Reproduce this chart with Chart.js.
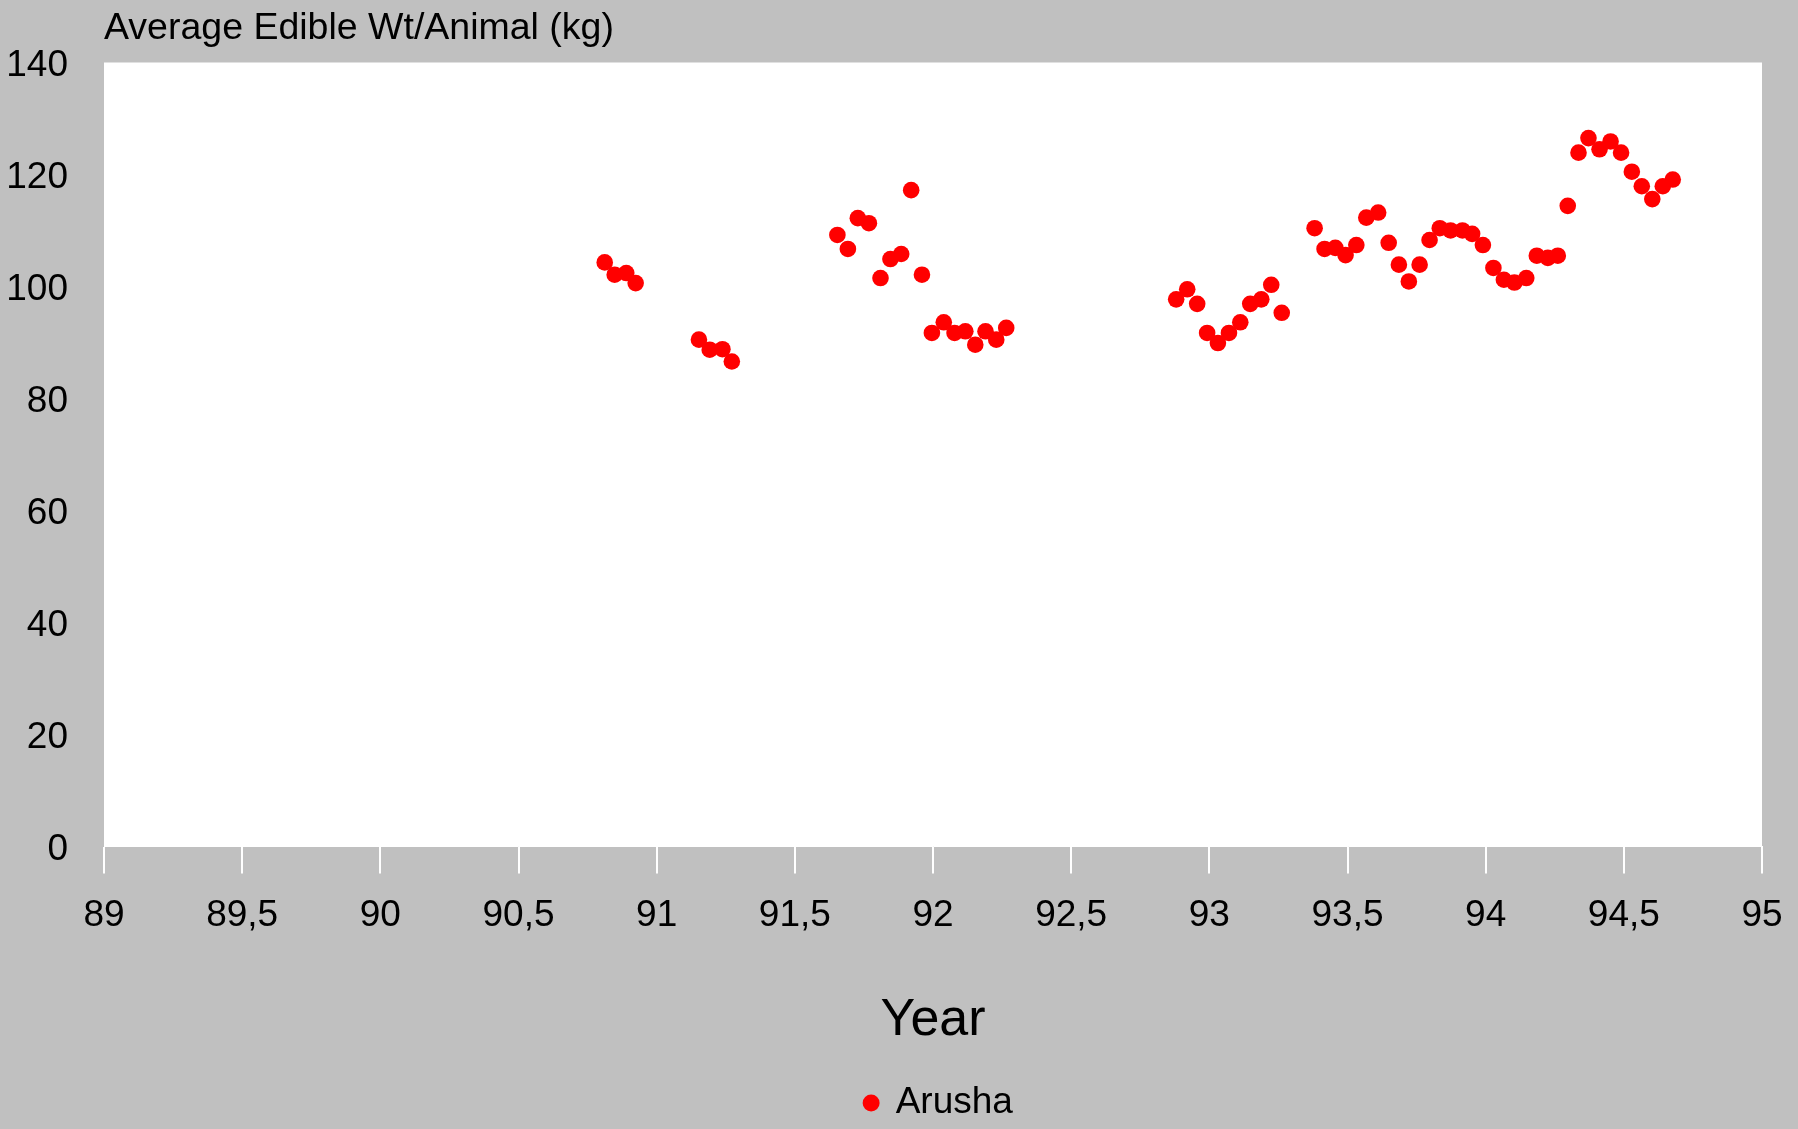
<!DOCTYPE html>
<html>
<head>
<meta charset="utf-8">
<title>Average Edible Wt/Animal - Arusha</title>
<script src="https://cdn.jsdelivr.net/npm/chart.js@4.4.1/dist/chart.umd.min.js"></script>
<style>
    html, body { margin: 0; padding: 0; background: #c0c0c0; }
    #wrap { width: 1798px; height: 1129px; position: relative; }
</style>
</head>
<body>
<div id="wrap"><canvas id="chart"></canvas></div>
<script>
// ---- data ----
const seriesName = 'Arusha';

const years = [
    90.812, 90.848, 90.890, 90.924,
    91.153, 91.192, 91.238, 91.272,
    91.654, 91.692, 91.728, 91.768, 91.810, 91.846, 91.885, 91.921, 91.960,
    91.996, 92.039, 92.078, 92.117, 92.153, 92.190, 92.229, 92.265,
    92.880, 92.920, 92.956, 92.992, 93.031, 93.071, 93.112, 93.148, 93.188, 93.224, 93.262,
    93.381, 93.417, 93.456, 93.493, 93.532, 93.568, 93.611, 93.649, 93.686, 93.722,
    93.761, 93.797, 93.834, 93.873, 93.916, 93.951, 93.990, 94.028, 94.066, 94.104,
    94.147, 94.185, 94.225, 94.261, 94.297, 94.336, 94.372, 94.412, 94.452, 94.490,
    94.529, 94.565, 94.603, 94.641, 94.677
];

const weights = [
    104.3, 102.1, 102.4, 100.6,
    90.5, 88.7, 88.8, 86.6,
    109.2, 106.7, 112.2, 111.3, 101.5, 104.9, 105.8, 117.2, 102.1,
    91.7, 93.6, 91.7, 92.0, 89.6, 92.0, 90.5, 92.6,
    97.7, 99.5, 96.9, 91.7, 89.9, 91.7, 93.6, 96.9, 97.7, 100.3, 95.3,
    110.4, 106.7, 106.9, 105.6, 107.4, 112.3, 113.2, 107.8, 103.9, 100.9,
    103.9, 108.3, 110.4, 110.0, 110.0, 109.4, 107.4, 103.3, 101.2, 100.7,
    101.5, 105.5, 105.1, 105.5, 114.4, 123.9, 126.5, 124.5, 125.9, 123.9,
    120.5, 117.9, 115.6, 117.9, 119.1
];

const xTicks = [89, 89.5, 90, 90.5, 91, 91.5, 92, 92.5, 93, 93.5, 94, 94.5, 95];
const yTicks = [0, 20, 40, 60, 80, 100, 120, 140];

// ---- chart ----
const FONT = "'Liberation Sans', Arial, Helvetica, sans-serif";

// white plot background behind the points
const plotBackground = {
    id: 'plotBackground',
    beforeDraw(chart) {
        const { ctx, chartArea: a } = chart;
        ctx.save();
        ctx.fillStyle = '#ffffff';
        ctx.fillRect(a.left, a.top, a.right - a.left, a.bottom - a.top);
        ctx.restore();
    }
};

// the original legend sits a little right of the plot centre
const legendNudge = {
    id: 'legendNudge',
    afterLayout(chart) {
        if (chart.legend) {
            chart.legend.left += 6;
            chart.legend.right += 6;
        }
    }
};

const points = years.map((x, i) => ({ x, y: weights[i] }));

new Chart(document.getElementById('chart'), {
    type: 'scatter',
    data: {
        datasets: [{
            label: seriesName,
            data: points,
            backgroundColor: '#ff0000',
            borderColor: '#ff0000',
            borderWidth: 0,
            pointRadius: 8.3,
            pointHoverRadius: 8.3,
            pointStyle: 'circle'
        }]
    },
    options: {
        responsive: true,
        maintainAspectRatio: false,
        animation: false,
        layout: { padding: { left: 8, right: 36, top: 0, bottom: -2.5 } },
        plugins: {
            title: {
                display: true,
                text: 'Average Edible Wt/Animal (kg)',
                align: 'start',
                fullSize: false,
                color: '#000',
                font: { family: FONT, size: 37.5, weight: 'normal' },
                padding: { top: 6, bottom: 11.5 }
            },
            legend: {
                position: 'bottom',
                fullSize: false,
                labels: {
                    color: '#000',
                    usePointStyle: true,
                    boxWidth: 12,
                    boxHeight: 12,
                    padding: 10,
                    font: { family: FONT, size: 37 }
                }
            },
            tooltip: { enabled: false }
        },
        scales: {
            x: {
                type: 'linear',
                min: 89,
                max: 95,
                afterBuildTicks: axis => { axis.ticks = xTicks.map(v => ({ value: v })); },
                // edge labels may hang past the plot, as in the original
                afterFit: axis => { axis.paddingLeft = 0; axis.paddingRight = 0; },
                border: { display: true, color: '#ffffff', width: 1 },
                grid: {
                    drawOnChartArea: false,
                    drawTicks: true,
                    tickLength: 27,
                    tickColor: '#ffffff',
                    lineWidth: 2
                },
                ticks: {
                    color: '#000',
                    padding: 20,
                    maxRotation: 0,
                    autoSkip: false,
                    font: { family: FONT, size: 37 },
                    callback: v => String(v).replace('.', ',')
                },
                title: {
                    display: true,
                    text: 'Year',
                    color: '#000',
                    font: { family: FONT, size: 52 },
                    padding: { top: 31.7, bottom: 22.6 }
                }
            },
            y: {
                min: 0,
                max: 140,
                afterBuildTicks: axis => { axis.ticks = yTicks.map(v => ({ value: v })); },
                afterFit: axis => { axis.width = 96; },
                border: { display: false },
                grid: { drawOnChartArea: false, drawTicks: false },
                ticks: {
                    color: '#000',
                    padding: 36,
                    labelOffset: 3,
                    font: { family: FONT, size: 37 }
                }
            }
        }
    },
    plugins: [plotBackground, legendNudge]
});
</script>
</body>
</html>
